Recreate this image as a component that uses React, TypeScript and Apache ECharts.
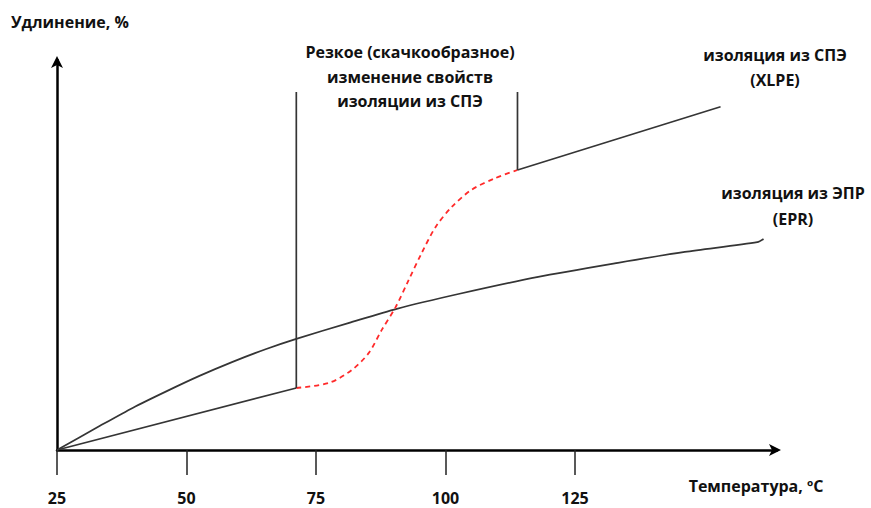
import React, { useEffect, useRef } from "react";
import * as echarts from "echarts";

// Temperature (°C) ticks
const tickValues = [25, 50, 75, 100, 125];

// EPR insulation elongation curve (temperature, elongation %)
const eprT = [25, 33.3, 39.6, 46.2, 52.5, 58.9, 65.4, 71.2, 81.4, 90.6, 102.5, 117.9, 133.3, 146.2, 160.2, 161.4];
const eprV = [0, 6.2, 10.8, 15.1, 19.0, 22.6, 25.9, 28.5, 32.6, 36.2, 40.0, 44.4, 48.0, 50.8, 53.3, 54.1];

// XLPE insulation: low part, abrupt transition (dashed), high part
const xlpeLowT = [25, 71.2];
const xlpeLowV = [0, 15.9];
const xlpeJumpT = [71.2, 77.5, 81.9, 85.2, 87.7, 90.4, 92.9, 95.4, 98.1, 101.2, 105.0, 109.6, 113.9];
const xlpeJumpV = [15.9, 17.2, 20.5, 24.9, 30.8, 36.7, 43.6, 50.5, 57.2, 62.3, 66.7, 69.7, 71.8];
const xlpeHighT = [113.9, 153.1];
const xlpeHighV = [71.8, 88.0];

// Vertical marker lines bounding the transition
const markerLeftT = [71.2, 71.2];
const markerLeftV = [91.8, 15.9];
const markerRightT = [113.9, 113.9];
const markerRightV = [91.8, 71.8];

const zip = (xs: number[], ys: number[]) => xs.map((x, i) => [x, ys[i]]);

const FONT = "'Open Sans', 'Noto Sans', sans-serif";
const TXT = "#111";
const LINE = "#353535";

export default function App() {
  const ref = useRef<HTMLDivElement>(null);
  useEffect(() => {
    if (!ref.current) return;
    const chart = echarts.init(ref.current, null, { renderer: "svg" });
    const lineSeries = (data: number[][], color: string, width: number, type: any = "solid", smooth: any = false) => ({
      type: "line",
      data,
      showSymbol: false,
      symbol: "none",
      smooth,
      lineStyle: { color, width, type },
      silent: true,
    });
    const textStyle = (text: string, x: number, y: number, align = "center") => ({
      type: "text",
      x,
      y,
      style: {
        text,
        font: `bold 16px ${FONT}`,
        fill: TXT,
        align,
        verticalAlign: "middle",
      },
    });
    chart.setOption({
      animation: false,
      backgroundColor: "#fff",
      grid: { left: 57, right: 94, top: 60, bottom: 58, containLabel: false },
      xAxis: {
        type: "value",
        min: 25,
        max: 164,
        splitLine: { show: false },
        axisLine: {
          show: true,
          lineStyle: { color: "#000", width: 2.5 },
          symbol: ["none", "arrow"],
          symbolSize: [9, 12],
          symbolOffset: [0, 4],
        },
        axisTick: {
          show: true,
          inside: false,
          length: 25,
          customValues: tickValues,
          lineStyle: { color: "#222", width: 1.5 },
        },
        axisLabel: {
          customValues: tickValues,
          margin: 40,
          fontFamily: FONT,
          fontWeight: "bold",
          fontSize: 16,
          lineHeight: 16,
          color: TXT,
        },
      },
      yAxis: {
        type: "value",
        min: 0,
        max: 100,
        splitLine: { show: false },
        axisTick: { show: false },
        axisLabel: { show: false },
        axisLine: {
          show: true,
          lineStyle: { color: "#000", width: 2.5 },
          symbol: ["none", "arrow"],
          symbolSize: [9, 12],
          symbolOffset: [0, 4],
        },
      },
      series: [
        lineSeries(zip(eprT, eprV), LINE, 1.7, "solid", 0.25),
        lineSeries(zip(xlpeLowT, xlpeLowV), LINE, 1.7),
        lineSeries(zip(xlpeJumpT, xlpeJumpV), "#ff2a2a", 1.8, [5, 4], 0.3),
        lineSeries(zip(xlpeHighT, xlpeHighV), LINE, 1.7),
        lineSeries(zip(markerLeftT, markerLeftV), LINE, 1.7),
        lineSeries(zip(markerRightT, markerRightV), LINE, 1.7),
      ],
      graphic: [
        textStyle("Удлинение, %", 11, 22, "left"),
        textStyle("Резкое (скачкообразное)", 410, 52),
        textStyle("изменение свойств", 410, 77),
        textStyle("изоляции из СПЭ", 410, 101),
        textStyle("изоляция из СПЭ", 775, 55),
        textStyle("(XLPE)", 775, 80),
        textStyle("изоляция из ЭПР", 793, 193),
        textStyle("(EPR)", 793, 219),
        textStyle("Температура, ºC", 756, 486),
      ],
    });
    return () => chart.dispose();
  }, []);
  return (
    <div
      ref={ref}
      style={{ position: "fixed", left: 0, top: 0, width: 871, height: 508, background: "#fff" }}
    />
  );
}
